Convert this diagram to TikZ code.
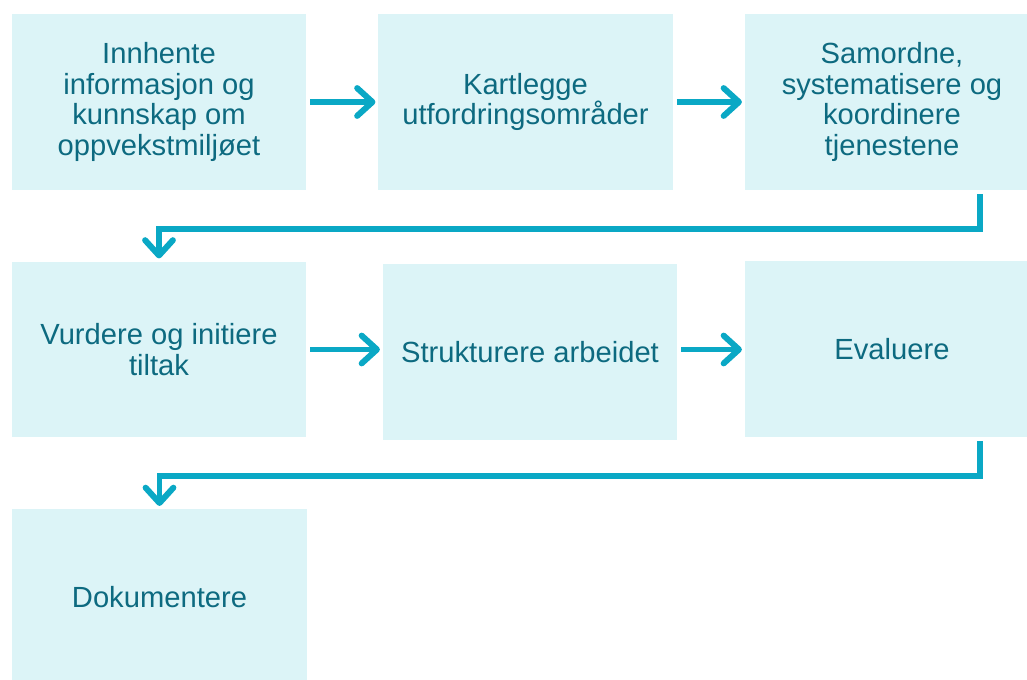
\documentclass[tikz,border=0pt]{standalone}
\usepackage{fontspec}
\setmainfont{Liberation Sans}
\usetikzlibrary{arrows.meta}
\definecolor{boxFill}{HTML}{DCF4F7}
\definecolor{boxText}{HTML}{0D6A80}
\definecolor{flowBlue}{HTML}{0AA8C5}

\begin{document}
\begin{tikzpicture}[x=0.72pt, y=-0.72pt]
	\tikzset{stepbox/.style = {fill=boxFill, text=boxText, minimum width=211.7pt, minimum height=126.7pt,
			inner sep=0pt, align=center, font=\fontsize{21}{22}\selectfont}}
	\tikzset{flow/.style = {-{Straight Barb[length=11pt, width=20pt, round]}, line width=4.3pt, color=flowBlue,
			shorten <=3pt, shorten >=2pt}}
	\useasboundingbox (0,0) rectangle (1027,680);
	\clip (0,0) rectangle (1027,680);
	
	% Boxes
	\node[stepbox] (inn) at (159,102) {Innhente\\informasjon og\\kunnskap om\\oppvekstmiljøet};
	\node[stepbox] (kart) at (525.5,102) {Kartlegge\\utfordringsområder};
	\node[stepbox] (sam) at (892,102) {Samordne,\\systematisere og\\koordinere\\tjenestene};
	\node[stepbox] (vur) at (159,349.5) {Vurdere og initiere\\tiltak};
	\node[stepbox] (str) at (530,352) {Strukturere arbeidet};
	\node[stepbox] (eva) at (892,349) {Evaluere};
	\node[stepbox] (dok) at (159.5,597) {Dokumentere};
	
	% Turning points
	\coordinate (k1) at (980,229);
	\coordinate (k2) at (980,476);
	
	% Arrows
	\draw[flow] (inn.east) -- (inn.east -| kart.west);
	\draw[flow] (kart.east) -- (kart.east -| sam.west);
	\draw[flow] (vur.east) -- (vur.east -| str.west);
	\draw[flow] (str.east |- vur.east) -- (vur.east -| eva.west);
	\draw[flow] (sam.south -| k1) -- (k1) -| (vur.north);
	\draw[flow] (eva.south -| k2) -- (k2) -| (dok.north);
\end{tikzpicture}
\end{document}
